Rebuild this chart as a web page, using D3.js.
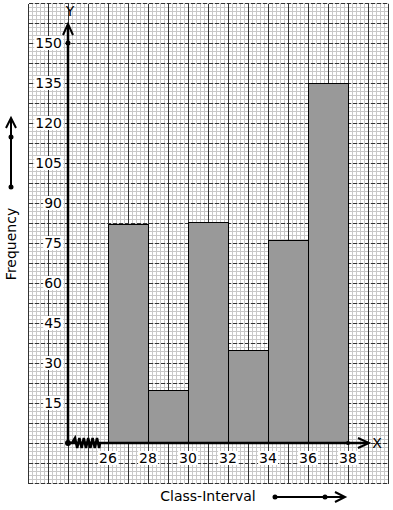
<!DOCTYPE html>
<html>
<head>
<meta charset="utf-8">
<script src="https://cdn.jsdelivr.net/npm/d3@7"></script>
<style>
  body { margin: 0; background: #fff; }
  svg { display: block; font-family: "DejaVu Sans", sans-serif; }
</style>
</head>
<body>
<div id="chart"></div>
<script>
const width = 393;
const height = 510;

// Données
const classStarts = [26, 28, 30, 32, 34, 36];
const classWidth = 2;
const frequencies = [82, 20, 83, 35, 76, 135];
const xTicks = [26, 28, 30, 32, 34, 36, 38];
const yTicks = [15, 30, 45, 60, 75, 90, 105, 120, 135, 150];

const svg = d3.select("#chart")
    .append("svg")
    .attr("width", width)
    .attr("height", height);

// Échelles : 1 unité en x = 20px, 15 unités en y = 40px
const x = d3.scaleLinear().domain([26, 38]).range([108, 348]);
const y = d3.scaleLinear().domain([0, 150]).range([443, 43]);

// 1. Papier millimétré (lignes alignées sur les pixels)
const px = v => Math.round(x(v)) + 0.5;
const py = v => Math.round(y(v)) + 0.5;
const gx0 = 22, gx1 = 40, gy0 = -15, gy1 = 165;
const grid = svg.append("g").attr("shape-rendering", "crispEdges");

// petites lignes
d3.range(0, 91).map(i => gx0 + i * 0.2).forEach(v => {
    grid.append("line")
        .attr("x1", px(v)).attr("x2", px(v))
        .attr("y1", py(gy1)).attr("y2", py(gy0))
        .attr("stroke", "#c8c8c8");
});
d3.range(0, 121).map(i => gy0 + i * 1.5).forEach(v => {
    grid.append("line")
        .attr("x1", px(gx0)).attr("x2", px(gx1))
        .attr("y1", py(v)).attr("y2", py(v))
        .attr("stroke", "#c8c8c8");
});
// grandes lignes
d3.range(gx0, gx1 + 0.001, 1).forEach(v => {
    grid.append("line")
        .attr("x1", px(v)).attr("x2", px(v))
        .attr("y1", py(gy1)).attr("y2", py(gy0))
        .attr("stroke", "#333");
});
d3.range(gy0, gy1 + 0.001, 7.5).forEach(v => {
    grid.append("line")
        .attr("x1", px(gx0)).attr("x2", px(gx1))
        .attr("y1", py(v)).attr("y2", py(v))
        .attr("stroke", "#333")
        .attr("stroke-dasharray", "4,2");
});

// 2. Histogramme
svg.selectAll(".bar")
    .data(classStarts)
    .join("rect")
    .attr("class", "bar")
    .attr("x", d => x(d) + 0.5)
    .attr("y", (d, i) => Math.round(y(frequencies[i])) + 0.5)
    .attr("width", d => x(d + classWidth) - x(d))
    .attr("height", (d, i) => y(0) - Math.round(y(frequencies[i])))
    .attr("fill", "#999")
    .attr("stroke", "#000")
    .attr("stroke-width", 1);

// 3. Axes
const ox = 68, oy = y(0);
const axes = svg.append("g").attr("stroke", "#000").attr("fill", "none");
axes.append("line").attr("x1", ox).attr("x2", ox).attr("y1", oy).attr("y2", 25).attr("stroke-width", 2.5);
axes.append("path").attr("d", `M${ox - 5},${35} L${ox},${24} L${ox + 5},${35}`).attr("stroke-width", 2);
axes.append("line").attr("x1", ox).attr("x2", 368).attr("y1", oy).attr("y2", oy).attr("stroke-width", 2.5);
axes.append("path").attr("d", `M${358},${oy - 5} L${369},${oy} L${358},${oy + 5}`).attr("stroke-width", 2);

// zigzag (coupure d'axe)
let zz = `M${ox + 4},${oy}`;
for (let i = 0; i < 6; i++) {
    const x0 = ox + 7 + i * 4.4;
    zz += ` L${x0},${oy - 5} L${x0 + 2.2},${oy + 5}`;
}
zz += ` L${ox + 32},${oy}`;
axes.append("path").attr("d", zz).attr("stroke-width", 2.5);

svg.append("circle").attr("cx", ox).attr("cy", oy).attr("r", 3).attr("fill", "#000");
svg.append("circle").attr("cx", ox).attr("cy", y(150)).attr("r", 2.5).attr("fill", "#000");
svg.append("circle").attr("cx", x(38)).attr("cy", oy).attr("r", 2).attr("fill", "#000");

svg.append("text").attr("x", ox + 2).attr("y", 16).attr("text-anchor", "middle")
    .attr("font-size", 14).text("Y");
svg.append("text").attr("x", 377).attr("y", oy + 5).attr("text-anchor", "middle")
    .attr("font-size", 14).text("X");

// étiquettes y avec fond blanc
yTicks.forEach(t => {
    const g = svg.append("g");
    const txt = g.append("text")
        .attr("x", 62).attr("y", y(t) + 5)
        .attr("text-anchor", "end")
        .attr("font-size", 14)
        .text(t);
    const b = txt.node().getBBox();
    g.insert("rect", "text")
        .attr("x", b.x - 1).attr("y", b.y + 1)
        .attr("width", b.width + 2).attr("height", b.height - 2)
        .attr("fill", "#fff");
});

// étiquettes x avec fond blanc
xTicks.forEach(t => {
    const g = svg.append("g");
    const txt = g.append("text")
        .attr("x", x(t)).attr("y", oy + 20)
        .attr("text-anchor", "middle")
        .attr("font-size", 14)
        .text(t);
    const b = txt.node().getBBox();
    g.insert("rect", "text")
        .attr("x", b.x - 1).attr("y", b.y + 1)
        .attr("width", b.width + 2).attr("height", b.height - 2)
        .attr("fill", "#fff");
});

// 4. Titres des axes
svg.append("text")
    .attr("transform", "translate(16,244) rotate(-90)")
    .attr("text-anchor", "middle")
    .attr("font-size", 14)
    .text("Frequency");

svg.append("line").attr("x1", 11).attr("x2", 11).attr("y1", 187).attr("y2", 119)
    .attr("stroke", "#000").attr("stroke-width", 2);
svg.append("path").attr("d", "M6,128 L11,118 L16,128").attr("fill", "none")
    .attr("stroke", "#000").attr("stroke-width", 2);
svg.append("circle").attr("cx", 11).attr("cy", 137).attr("r", 2.5).attr("fill", "#000");
svg.append("circle").attr("cx", 11).attr("cy", 187).attr("r", 2.5).attr("fill", "#000");

svg.append("text")
    .attr("x", 208).attr("y", 501)
    .attr("text-anchor", "middle")
    .attr("font-size", 14)
    .text("Class-Interval");

svg.append("line").attr("x1", 275).attr("x2", 345).attr("y1", 497).attr("y2", 497)
    .attr("stroke", "#000").attr("stroke-width", 2);
svg.append("path").attr("d", "M335,492 L345,497 L335,502").attr("fill", "none")
    .attr("stroke", "#000").attr("stroke-width", 2);
svg.append("circle").attr("cx", 275).attr("cy", 497).attr("r", 2.5).attr("fill", "#000");
svg.append("circle").attr("cx", 325).attr("cy", 497).attr("r", 2.5).attr("fill", "#000");
</script>
</body>
</html>
